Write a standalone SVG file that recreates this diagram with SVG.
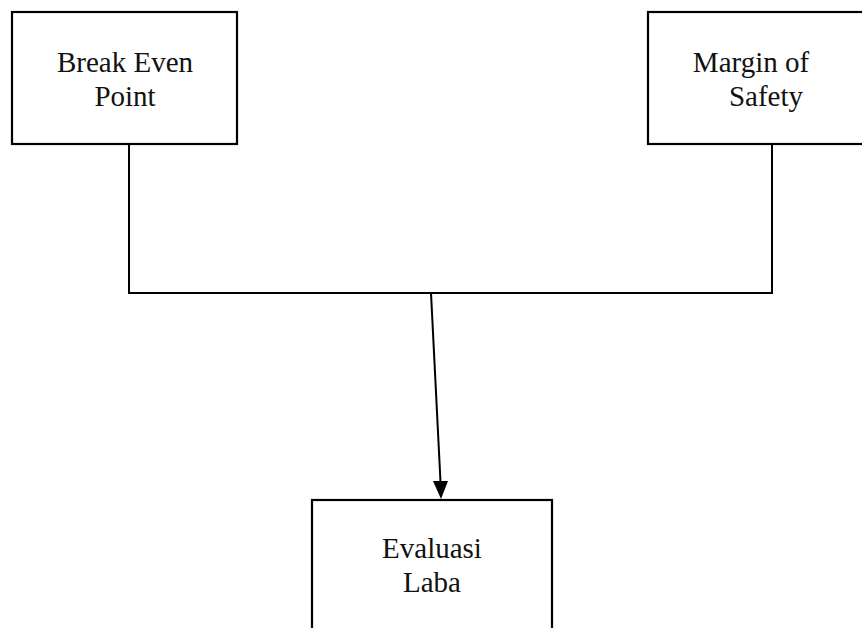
<svg xmlns="http://www.w3.org/2000/svg" width="862" height="628" viewBox="0 0 862 628">
<style>
.box{fill:#fff;stroke:#000;stroke-width:2.2}
.lbl{font-family:"Liberation Serif","Times New Roman",serif;font-size:29px;fill:#111;text-anchor:middle}
.ln{fill:none;stroke:#000;stroke-width:2}
</style>
<rect width="862" height="628" fill="#fff"/>
<g id="connectors">
<polyline class="ln" points="129,144 129,293 772,293 772,144"/>
<line class="ln" x1="431" y1="293" x2="440.5" y2="482"/>
<path d="M433,481 L448,481 L441,499 Z" fill="#000"/>
</g>
<g id="node-bep">
<rect class="box" x="12" y="12" width="225" height="132"/>
<text class="lbl" x="125" y="72">Break Even</text>
<text class="lbl" x="125" y="106">Point</text>
</g>
<g id="node-mos">
<rect class="box" x="648" y="12" width="230" height="132"/>
<text class="lbl" x="751" y="72">Margin of</text>
<text class="lbl" x="766" y="106">Safety</text>
</g>
<g id="node-evaluasi">
<rect class="box" x="312" y="500" width="240" height="150"/>
<text class="lbl" x="432" y="558">Evaluasi</text>
<text class="lbl" x="432" y="592">Laba</text>
</g>
</svg>
